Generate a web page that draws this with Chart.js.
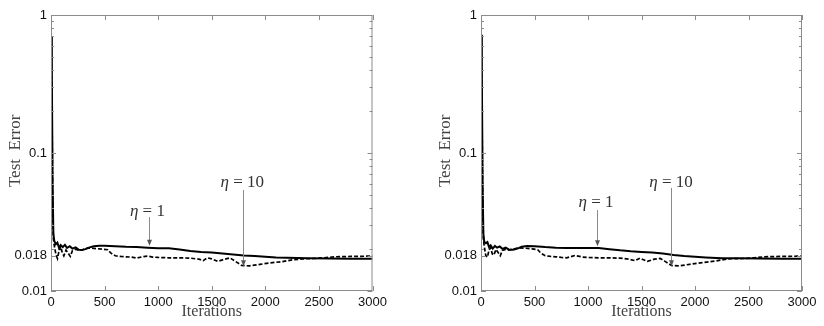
<!DOCTYPE html>
<html>
<head>
<meta charset="utf-8">
<script src="https://cdn.jsdelivr.net/npm/chart.js@4/dist/chart.umd.min.js"></script>
<style>
  html, body { margin: 0; padding: 0; background: #fff; }
  .panel { position: absolute; top: 0; width: 412px; height: 326px; }
</style>
</head>
<body>
<div class="panel" style="left:0"><canvas id="left"></canvas></div>
<div class="panel" style="left:412px"><canvas id="right"></canvas></div>
<script>
// axis ticks
const xTicks = [0, 500, 1000, 1500, 2000, 2500, 3000];
const yTicks = [0.01, 0.018, 0.1, 1];
const yMinor = [0.02, 0.03, 0.04, 0.05, 0.06, 0.07, 0.08, 0.09, 0.2, 0.3, 0.4, 0.5, 0.6, 0.7, 0.8, 0.9];

// left panel: eta = 1 (solid), eta = 10 (dashed)
const leftSolidIter = [0, 8, 15, 22, 30, 45, 60, 75, 90, 110, 130, 150, 175, 200, 230, 260, 290, 320, 360, 400, 450, 500, 600, 700, 800, 900, 1000, 1100, 1200, 1300, 1400, 1500, 1600, 1700, 1800, 1900, 2000, 2100, 2200, 2400, 2600, 2800, 3000];
const leftSolidErr = [0.7, 0.35, 0.06, 0.026, 0.0232, 0.0218, 0.0224, 0.0205, 0.0215, 0.0208, 0.0216, 0.0205, 0.0211, 0.0203, 0.0207, 0.0199, 0.0198, 0.0201, 0.0207, 0.0211, 0.0213, 0.0213, 0.0211, 0.0209, 0.0208, 0.0206, 0.0204, 0.0204, 0.0200, 0.0195, 0.0192, 0.0190, 0.0187, 0.0184, 0.0181, 0.0179, 0.0177, 0.0175, 0.0174, 0.0173, 0.0172, 0.0171, 0.0171];
const leftDashIter = [0, 8, 15, 22, 30, 45, 60, 75, 90, 105, 120, 140, 160, 180, 200, 230, 260, 300, 350, 420, 480, 530, 560, 600, 650, 700, 750, 800, 850, 900, 950, 1000, 1100, 1200, 1300, 1380, 1420, 1460, 1500, 1555, 1620, 1670, 1720, 1780, 1850, 1950, 2050, 2150, 2250, 2350, 2450, 2550, 2650, 2800, 3000];
const leftDashErr = [0.6, 0.3, 0.05, 0.024, 0.0215, 0.0185, 0.0172, 0.0195, 0.0210, 0.0190, 0.0180, 0.0198, 0.0188, 0.0178, 0.0196, 0.0201, 0.0197, 0.0200, 0.0205, 0.0203, 0.0201, 0.0199, 0.0188, 0.0180, 0.0178, 0.0177, 0.0176, 0.0173, 0.0177, 0.0179, 0.0176, 0.0175, 0.0174, 0.0174, 0.0173, 0.0170, 0.0166, 0.0174, 0.0171, 0.0164, 0.0170, 0.0174, 0.0164, 0.0153, 0.0152, 0.0156, 0.0160, 0.0163, 0.0168, 0.0171, 0.0172, 0.0174, 0.0177, 0.0178, 0.0179];

// right panel
const rightSolidIter = [0, 8, 15, 22, 30, 45, 60, 75, 90, 110, 130, 150, 175, 200, 230, 260, 300, 340, 380, 430, 500, 600, 700, 800, 900, 1000, 1100, 1200, 1300, 1400, 1500, 1600, 1700, 1800, 1900, 2000, 2100, 2250, 2400, 2600, 2800, 3000];
const rightSolidErr = [0.72, 0.36, 0.06, 0.026, 0.0228, 0.0222, 0.0226, 0.0208, 0.0214, 0.0203, 0.0212, 0.0206, 0.0210, 0.0202, 0.0206, 0.0200, 0.0199, 0.0203, 0.0209, 0.0212, 0.0211, 0.0208, 0.0206, 0.0205, 0.0205, 0.0205, 0.0205, 0.0201, 0.0197, 0.0194, 0.0192, 0.0190, 0.0187, 0.0182, 0.0179, 0.0177, 0.0175, 0.0173, 0.0173, 0.0172, 0.0171, 0.0171];
const rightDashIter = [0, 8, 15, 22, 30, 45, 60, 75, 90, 105, 120, 140, 160, 180, 200, 230, 260, 300, 350, 420, 480, 530, 560, 600, 650, 700, 750, 800, 880, 950, 1000, 1100, 1200, 1300, 1380, 1440, 1485, 1555, 1620, 1675, 1720, 1780, 1850, 1950, 2050, 2190, 2310, 2450, 2550, 2650, 2800, 3000];
const rightDashErr = [0.62, 0.3, 0.05, 0.024, 0.0212, 0.0180, 0.0176, 0.0198, 0.0206, 0.0186, 0.0182, 0.0200, 0.0190, 0.0180, 0.0197, 0.0200, 0.0198, 0.0201, 0.0205, 0.0204, 0.0202, 0.0199, 0.0188, 0.0180, 0.0178, 0.0177, 0.0175, 0.0174, 0.0181, 0.0176, 0.0175, 0.0174, 0.0174, 0.0173, 0.0170, 0.0166, 0.0173, 0.0164, 0.0170, 0.0172, 0.0164, 0.0153, 0.0152, 0.0156, 0.0160, 0.0165, 0.0171, 0.0172, 0.0174, 0.0177, 0.0178, 0.0179];

// annotation labels: eta value, text anchor (iter, err), arrow (iter, from err, to err)
const leftNotes = [
  { eta: '1', textIter: 900, textErr: 0.0374, arrowIter: 915, fromErr: 0.0343, toErr: 0.0213 },
  { eta: '10', textIter: 1785, textErr: 0.0607, arrowIter: 1795, fromErr: 0.0539, toErr: 0.0151 }
];
const rightNotes = [
  { eta: '1', textIter: 1075, textErr: 0.0434, arrowIter: 1081, fromErr: 0.0386, toErr: 0.0211 },
  { eta: '10', textIter: 1776, textErr: 0.0609, arrowIter: 1773, fromErr: 0.0558, toErr: 0.0151 }
];

const toPoints = (xs, ys) => xs.map((v, i) => ({ x: v, y: ys[i] }));

// box, inward ticks (matlab style) and eta arrows
const framePlugin = {
  id: 'frame',
  afterDatasetsDraw(chart, args, opts) {
    const { ctx, chartArea: a, scales: { x, y } } = chart;
    ctx.save();
    ctx.strokeStyle = '#8c8c8c';
    ctx.lineWidth = 1;
    ctx.strokeRect(a.left + 0.5, a.top + 0.5, a.width - 1, a.height - 1);
    ctx.beginPath();
    xTicks.forEach(v => {
      const px = Math.round(x.getPixelForValue(v)) + 0.5;
      ctx.moveTo(px, a.bottom); ctx.lineTo(px, a.bottom - 5);
      ctx.moveTo(px, a.top); ctx.lineTo(px, a.top + 5);
    });
    yTicks.forEach(v => {
      const py = Math.round(y.getPixelForValue(v)) + 0.5;
      ctx.moveTo(a.left, py); ctx.lineTo(a.left + 5, py);
      ctx.moveTo(a.right, py); ctx.lineTo(a.right - 5, py);
    });
    yMinor.forEach(v => {
      const py = Math.round(y.getPixelForValue(v)) + 0.5;
      ctx.moveTo(a.left, py); ctx.lineTo(a.left + 3, py);
      ctx.moveTo(a.right, py); ctx.lineTo(a.right - 3, py);
    });
    ctx.stroke();

    (opts.notes || []).forEach(n => {
      const ax = Math.round(x.getPixelForValue(n.arrowIter)) + 0.5;
      const y0 = y.getPixelForValue(n.fromErr);
      const y1 = y.getPixelForValue(n.toErr);
      ctx.strokeStyle = '#8a8a8a';
      ctx.beginPath();
      ctx.moveTo(ax, y0); ctx.lineTo(ax, y1 - 4);
      ctx.stroke();
      ctx.fillStyle = '#555';
      ctx.beginPath();
      ctx.moveTo(ax, y1); ctx.lineTo(ax - 2.5, y1 - 6); ctx.lineTo(ax + 2.5, y1 - 6);
      ctx.closePath();
      ctx.fill();

      const tx = x.getPixelForValue(n.textIter);
      const ty = y.getPixelForValue(n.textErr);
      const italic = 'italic 17px "Liberation Serif", serif';
      const plain = '17px "Liberation Serif", serif';
      const rest = ' = ' + n.eta;
      ctx.font = italic;
      const w1 = ctx.measureText('η').width;
      ctx.font = plain;
      const w2 = ctx.measureText(rest).width;
      let sx = tx - (w1 + w2) / 2;
      ctx.fillStyle = '#333';
      ctx.textBaseline = 'middle';
      ctx.textAlign = 'left';
      ctx.font = italic;
      ctx.fillText('η', sx, ty);
      ctx.font = plain;
      ctx.fillText(rest, sx + w1, ty);
    });
    ctx.restore();
  }
};

function makeChart(id, solid, dashed, notes, padLeft, padRight) {
  return new Chart(document.getElementById(id), {
    type: 'line',
    data: {
      datasets: [
        {
          label: 'η = 1',
          data: solid,
          borderColor: '#000',
          borderWidth: 2,
          pointRadius: 0,
          tension: 0
        },
        {
          label: 'η = 10',
          data: dashed,
          borderColor: '#000',
          borderWidth: 1.7,
          borderDash: [4, 2],
          pointRadius: 0,
          tension: 0
        }
      ]
    },
    options: {
      responsive: false,
      animation: false,
      events: [],
      layout: { padding: { left: padLeft, right: padRight, top: 15, bottom: 5 } },
      plugins: {
        legend: { display: false },
        tooltip: { enabled: false },
        frame: { notes: notes }
      },
      scales: {
        x: {
          type: 'linear',
          min: 0,
          max: 3000,
          afterBuildTicks: s => { s.ticks = xTicks.map(v => ({ value: v })); },
          afterFit: s => { s.height = 30; },
          grid: { display: false, drawTicks: false },
          border: { display: false },
          ticks: {
            padding: 4,
            color: '#111',
            maxRotation: 0,
            font: { family: '"Liberation Sans", Arial, sans-serif', size: 13 },
            callback: v => String(v)
          },
          title: {
            display: true,
            text: 'Iterations',
            color: '#444',
            padding: { top: 0, bottom: 0 },
            font: { family: '"Liberation Serif", serif', size: 16 }
          }
        },
        y: {
          type: 'logarithmic',
          min: 0.01,
          max: 1,
          afterBuildTicks: s => { s.ticks = yTicks.map(v => ({ value: v })); },
          afterFit: s => { s.width = 51; },
          grid: { display: false, drawTicks: false },
          border: { display: false },
          ticks: {
            padding: 4,
            color: '#111',
            font: { family: '"Liberation Sans", Arial, sans-serif', size: 13 },
            callback: v => String(v)
          },
          title: {
            display: true,
            text: ' Test  Error',
            color: '#444',
            padding: { top: 5, bottom: 0 },
            font: { family: '"Liberation Serif", serif', size: 17 }
          }
        }
      }
    },
    plugins: [framePlugin]
  });
}

document.getElementById('left').width = 412;
document.getElementById('left').height = 326;
document.getElementById('right').width = 412;
document.getElementById('right').height = 326;

makeChart('left', toPoints(leftSolidIter, leftSolidErr), toPoints(leftDashIter, leftDashErr), leftNotes, 0, 39.5);
makeChart('right', toPoints(rightSolidIter, rightSolidErr), toPoints(rightDashIter, rightDashErr), rightNotes, 18, 22);
</script>
</body>
</html>
